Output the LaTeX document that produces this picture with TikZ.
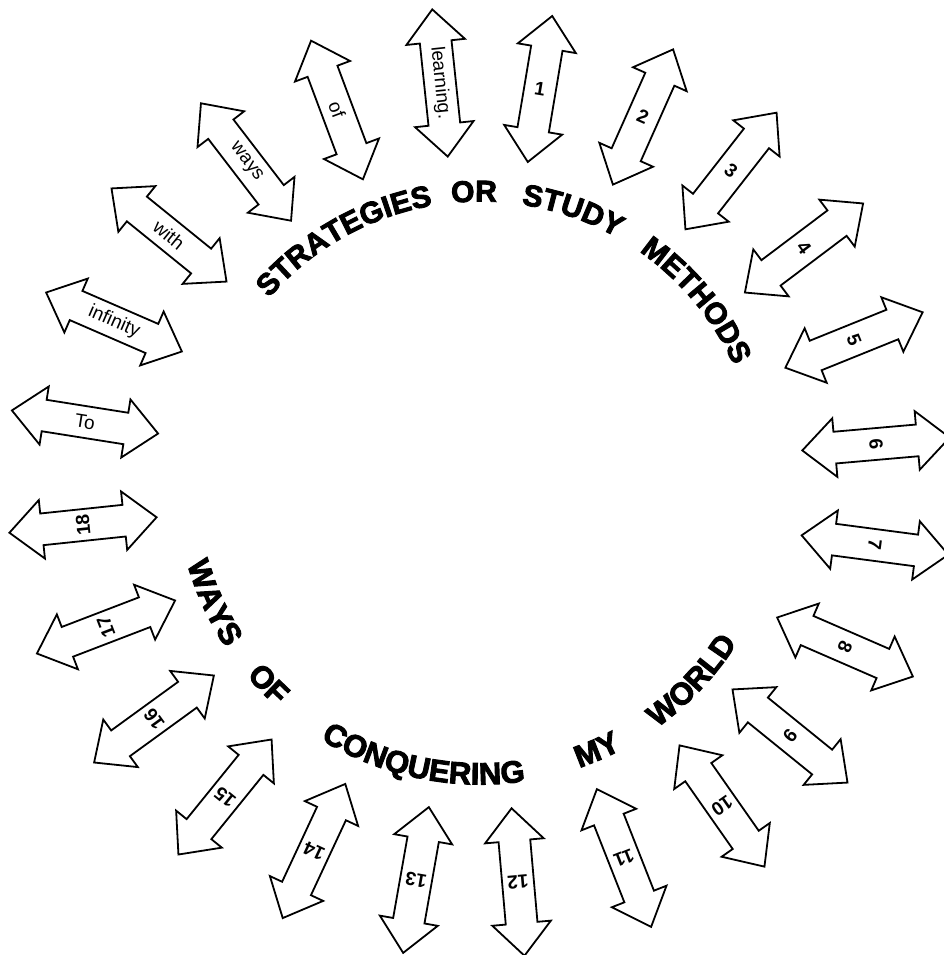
\documentclass[tikz,border=0pt]{standalone}
\usepackage{fontspec}
\setmainfont{Liberation Sans}
\newfontfamily\titlefont{Liberation Sans}[FakeBold=3]
\usetikzlibrary{shapes.arrows,decorations.text}
\newcommand{\titlestyle}{\titlefont\bfseries\fontsize{30}{30}\selectfont}
\newcommand{\lowstyle}{\titlefont\bfseries\fontsize{31}{31}\selectfont}
% one word of the title on the upper arc (clockwise) or the lower arc (anticlockwise)
\newcommand{\topword}[2]{\path[shift={(ctr)},decorate,decoration={text along path,text align=center,text={|\titlestyle|#2}}] (#1+40:278.5pt) arc[start angle=#1+40,end angle=#1-40,radius=278.5pt];}
\newcommand{\botword}[2]{\path[shift={(ctr)},decorate,decoration={text along path,text align=center,text={|\lowstyle|#2}}] (#1-40:304.5pt) arc[start angle=#1-40,end angle=#1+40,radius=304.5pt];}

\begin{document}
\begin{tikzpicture}[x=1pt,y=1pt,
  darrow/.style={double arrow,draw,fill=white,line width=1.8pt,minimum height=148pt,inner sep=0pt,inner ysep=15pt,double arrow head extend=13.5pt,double arrow tip angle=84},
  wordlab/.style={inner sep=0pt,font=\fontsize{19}{19}\selectfont},
  numlab/.style={inner sep=0pt,font=\bfseries\fontsize{19}{19}\selectfont}]
\useasboundingbox (0,0) rectangle (944,-955);
\coordinate (ctr) at (480,-480);
% arrows with words
\foreach \i/\x/\y/\a/\t in {1/440/83/96/learning., 2/337/110/110.5/of, 3/246/162/127.5/ways, 4/169/235/141/with, 5/114/322/156.5/infinity, 6/85/422/171/To}{
  \node[darrow,rotate=\a] (aw\i) at (\x,-\y) {};
  \node[wordlab,rotate=\a+180] (tw\i) at (aw\i) {\t};}
% numbered arrows
\foreach \n/\x/\y/\a in {1/540/89/80.5, 2/643/117/66, 3/731/171/52, 4/804/248/37, 5/854/340/22, 6/876/444/5, 7/875/545/-7.5, 8/845/647/-23.5, 9/790/736/-39, 10/722/806/-55, 11/624/858/-68.5, 12/518/882/-85, 13/416/880/-100, 14/314/851/-115, 15/225/797/-129, 16/154/719/-144, 17/106/627/-159, 18/83/525/-174}{
  \node[darrow,rotate=\a] (an\n) at (\x,-\y) {};
  \node[numlab,rotate=\a-90] (tn\n) at (an\n) {\n};}
% title round the circle
\topword{119.5}{STRATEGIES}
\topword{91.2}{OR}
\topword{71}{STUDY}
\topword{39.7}{METHODS}
\botword{-155.3}{WAYS}
\botword{-136}{OF}
\botword{-101.5}{CONQUERING}
\botword{-66.6}{MY}
\botword{-43.4}{WORLD}
\end{tikzpicture}
\end{document}
